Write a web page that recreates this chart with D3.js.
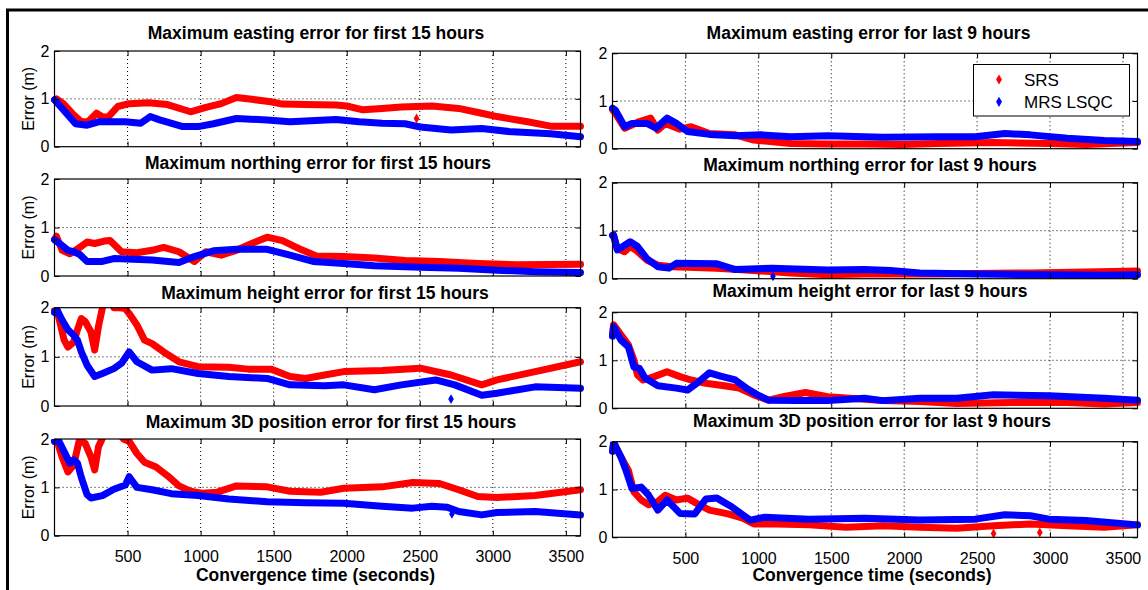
<!DOCTYPE html>
<html><head><meta charset="utf-8">
<script src="https://cdn.jsdelivr.net/npm/d3@7"></script>
<style>
body{margin:0;background:#fff}
svg{display:block;font-family:"Liberation Sans",Arial,Helvetica,sans-serif}
</style>
</head><body>
<svg id="c" width="1148" height="590"></svg>
<script>
// ---------------- data (time in s, error in m) ----------------
const xTicks = [500,1000,1500,2000,2500,3000,3500];
const yTicks = [0,1,2];
const seriesNames = ["SRS","MRS LSQC"];

const eastFirstSRS = [[0,0.98],[13,1.0],[60,0.9],[120,0.7],[184,0.52],[230,0.52],[288,0.7],[330,0.62],[367,0.62],[433,0.84],[511,0.9],[642,0.92],[773,0.88],[931,0.73],[1036,0.82],[1141,0.9],[1245,1.03],[1350,0.99],[1481,0.94],[1560,0.89],[1717,0.88],[1927,0.87],[2000,0.85],[2111,0.77],[2242,0.8],[2373,0.83],[2583,0.85],[2766,0.8],[2924,0.7],[3028,0.63],[3238,0.52],[3395,0.43],[3600,0.43]];
const eastFirstMRS = [[0,0.98],[144,0.48],[223,0.45],[301,0.52],[485,0.52],[590,0.49],[655,0.63],[720,0.56],[878,0.42],[983,0.42],[1088,0.48],[1245,0.59],[1455,0.56],[1612,0.52],[1927,0.57],[2085,0.52],[2242,0.49],[2400,0.48],[2504,0.41],[2714,0.35],[2924,0.38],[3133,0.31],[3395,0.27],[3600,0.21]];

const northFirstSRS = [[0,0.75],[13,0.82],[52,0.53],[105,0.46],[144,0.53],[223,0.7],[275,0.67],[341,0.72],[380,0.73],[459,0.5],[564,0.48],[668,0.53],[747,0.59],[852,0.5],[957,0.3],[1036,0.5],[1141,0.43],[1245,0.53],[1350,0.67],[1455,0.8],[1560,0.73],[1691,0.54],[1796,0.41],[1980,0.4],[2189,0.37],[2400,0.32],[2635,0.3],[2897,0.26],[3160,0.23],[3600,0.24]];
const northFirstMRS = [[0,0.75],[39,0.66],[92,0.53],[131,0.5],[170,0.45],[223,0.3],[328,0.3],[406,0.36],[668,0.33],[852,0.28],[957,0.4],[1088,0.52],[1245,0.55],[1455,0.55],[1612,0.43],[1770,0.3],[1980,0.26],[2189,0.21],[2504,0.18],[2766,0.16],[3028,0.12],[3290,0.09],[3600,0.07]];

const heightFirstSRS = [[0,1.95],[13,2.0],[39,1.68],[66,1.34],[92,1.2],[131,1.3],[157,1.55],[184,1.78],[210,1.72],[249,1.51],[275,1.14],[301,1.62],[328,2.0],[365,2.3],[406,2.0],[450,2.0],[485,1.98],[511,1.88],[564,1.65],[616,1.34],[668,1.27],[747,1.1],[852,0.9],[983,0.8],[1193,0.79],[1324,0.75],[1481,0.75],[1612,0.6],[1717,0.56],[1848,0.63],[1980,0.7],[2242,0.72],[2504,0.77],[2714,0.63],[2924,0.43],[3028,0.53],[3290,0.7],[3600,0.9]];
const heightFirstMRS = [[0,1.9],[13,1.98],[52,1.75],[92,1.55],[131,1.44],[157,1.34],[184,1.1],[223,0.83],[275,0.6],[328,0.66],[406,0.76],[459,0.87],[511,1.1],[564,0.9],[668,0.73],[800,0.76],[983,0.66],[1193,0.6],[1455,0.56],[1612,0.43],[1848,0.41],[1980,0.43],[2189,0.33],[2373,0.43],[2609,0.53],[2740,0.43],[2924,0.22],[3028,0.26],[3290,0.39],[3600,0.36]];

const pos3dFirstSRS = [[0,1.95],[13,2.0],[52,1.63],[92,1.32],[131,1.46],[170,1.98],[210,1.91],[249,1.63],[275,1.36],[301,1.84],[333,2.05],[400,2.3],[472,2.0],[511,1.95],[564,1.7],[616,1.52],[695,1.42],[773,1.24],[852,1.03],[931,0.92],[1009,0.88],[1114,0.9],[1245,1.03],[1455,1.01],[1612,0.92],[1822,0.9],[1980,0.98],[2242,1.01],[2452,1.1],[2635,1.08],[2766,0.95],[2897,0.81],[3028,0.79],[3290,0.83],[3600,0.95]];
const pos3dFirstMRS = [[0,1.95],[26,1.98],[66,1.74],[105,1.5],[131,1.57],[157,1.5],[184,1.2],[223,0.85],[249,0.78],[328,0.83],[406,0.96],[485,1.05],[511,1.22],[564,1.0],[668,0.95],[800,0.87],[983,0.83],[1193,0.76],[1455,0.7],[1717,0.68],[1980,0.67],[2242,0.61],[2452,0.57],[2583,0.61],[2688,0.59],[2766,0.5],[2924,0.43],[3028,0.48],[3290,0.5],[3600,0.43]];

const eastLastSRS = [[0,0.82],[20,0.74],[83,0.43],[185,0.57],[261,0.64],[311,0.39],[362,0.53],[463,0.41],[539,0.46],[665,0.32],[842,0.29],[969,0.18],[1222,0.11],[1475,0.1],[1728,0.1],[1981,0.09],[2234,0.11],[2613,0.13],[2993,0.11],[3246,0.09],[3600,0.13]];
const eastLastMRS = [[0,0.85],[20,0.81],[83,0.46],[134,0.53],[235,0.53],[299,0.43],[374,0.64],[438,0.53],[514,0.36],[665,0.3],[842,0.27],[1020,0.29],[1222,0.25],[1475,0.27],[1854,0.24],[2234,0.25],[2487,0.25],[2690,0.32],[2866,0.29],[3120,0.22],[3372,0.17],[3600,0.15]];

const northLastSRS = [[0,0.9],[8,0.88],[33,0.63],[83,0.56],[121,0.67],[159,0.6],[235,0.39],[311,0.28],[412,0.25],[514,0.24],[716,0.22],[969,0.17],[1222,0.12],[1475,0.08],[1728,0.1],[2234,0.1],[2487,0.11],[2866,0.12],[3246,0.14],[3600,0.16]];
const northLastMRS = [[0,0.9],[8,0.91],[33,0.6],[71,0.67],[121,0.77],[172,0.67],[235,0.42],[311,0.25],[387,0.22],[438,0.32],[716,0.31],[842,0.19],[1095,0.22],[1475,0.18],[1728,0.19],[1905,0.17],[2107,0.12],[2487,0.1],[2993,0.08],[3372,0.07],[3600,0.08]];

const heightLastSRS = [[0,1.55],[8,1.74],[58,1.53],[109,1.32],[147,1.0],[172,0.69],[210,0.59],[286,0.66],[374,0.76],[463,0.66],[539,0.59],[640,0.52],[767,0.47],[868,0.42],[969,0.28],[1070,0.17],[1171,0.24],[1323,0.33],[1475,0.24],[1627,0.21],[1854,0.16],[2107,0.14],[2360,0.1],[2740,0.12],[3120,0.12],[3372,0.09],[3600,0.12]];
const heightLastMRS = [[0,1.5],[8,1.7],[58,1.42],[109,1.28],[147,0.86],[185,0.83],[223,0.63],[311,0.47],[438,0.42],[514,0.38],[577,0.52],[665,0.74],[741,0.67],[842,0.59],[918,0.42],[994,0.28],[1070,0.17],[1273,0.16],[1475,0.16],[1728,0.21],[1854,0.16],[2107,0.21],[2360,0.21],[2613,0.28],[2993,0.26],[3372,0.21],[3600,0.17]];

const pos3dLastSRS = [[0,1.8],[8,1.98],[58,1.68],[109,1.4],[147,0.95],[197,0.78],[248,0.68],[311,0.75],[362,0.88],[438,0.78],[514,0.82],[577,0.71],[665,0.57],[792,0.49],[893,0.4],[969,0.28],[1121,0.28],[1348,0.26],[1601,0.21],[1854,0.24],[2107,0.21],[2360,0.19],[2613,0.24],[2866,0.28],[3120,0.24],[3372,0.21],[3600,0.26]];
const pos3dLastMRS = [[0,1.8],[8,1.98],[58,1.68],[96,1.37],[134,1.02],[197,1.05],[248,0.88],[311,0.57],[374,0.78],[463,0.5],[564,0.49],[640,0.8],[716,0.82],[817,0.64],[893,0.47],[944,0.36],[1045,0.42],[1348,0.38],[1728,0.4],[2107,0.36],[2487,0.38],[2690,0.47],[2866,0.45],[2993,0.38],[3246,0.35],[3600,0.26]];

// isolated stray samples
const eastFirstSRSOut = [[2478,0.59]];
const heightFirstMRSOut = [[2714,0.14]];
const pos3dFirstMRSOut = [[2720,0.45]];
const northLastMRSOut = [[1100,0.05]];
const pos3dLastSRSOut = [[2613,0.08],[2930,0.1]];

// ---------------- layout ----------------
const cols = [[54.5,580.5],[612.5,1137.5]];
const panels = [
 {title:"Maximum easting error for first 15 hours", col:0, top:51, bottom:146.7, tx:316, ty:39.3, srs:eastFirstSRS, mrs:eastFirstMRS, srsOut:eastFirstSRSOut},
 {title:"Maximum northing error for first 15 hours", col:0, top:179, bottom:276, tx:318, ty:169.3, srs:northFirstSRS, mrs:northFirstMRS},
 {title:"Maximum height error for first 15 hours", col:0, top:307.7, bottom:406, tx:325, ty:299.3, srs:heightFirstSRS, mrs:heightFirstMRS, mrsOut:heightFirstMRSOut},
 {title:"Maximum 3D position error for first 15 hours", col:0, top:439, bottom:535.7, tx:331, ty:428.3, srs:pos3dFirstSRS, mrs:pos3dFirstMRS, mrsOut:pos3dFirstMRSOut, last:true},
 {title:"Maximum easting error for last 9 hours", col:1, top:53.3, bottom:148.7, tx:868.5, ty:39.3, srs:eastLastSRS, mrs:eastLastMRS, legend:true},
 {title:"Maximum northing error for last 9 hours", col:1, top:182.7, bottom:278.7, tx:870, ty:170.7, srs:northLastSRS, mrs:northLastMRS, mrsOut:northLastMRSOut},
 {title:"Maximum height error for last 9 hours", col:1, top:312.3, bottom:408.3, tx:870, ty:297.3, srs:heightLastSRS, mrs:heightLastMRS},
 {title:"Maximum 3D position error for last 9 hours", col:1, top:441.7, bottom:537.3, tx:872, ty:426.7, srs:pos3dLastSRS, mrs:pos3dLastMRS, srsOut:pos3dLastSRSOut, last:true}
];
const RED = "#ff0000", BLUE = "#0000ff";

const svg = d3.select("#c");
svg.append("rect").attr("width",1148).attr("height",590).attr("fill","#fff");
// outer frame
svg.append("path").attr("d","M7.5,600V10H1152").attr("fill","none").attr("stroke","#000").attr("stroke-width",3);

const defs = svg.append("defs");

panels.forEach((p,i)=>{
  const [x0,x1] = cols[p.col];
  const x = d3.scaleLinear().domain([0,3600]).range([x0,x1]);
  const y = d3.scaleLinear().domain([0,2]).range([p.bottom,p.top]);
  const g = svg.append("g");

  // title
  g.append("text").attr("x",p.tx).attr("y",p.ty).attr("text-anchor","middle")
    .attr("font-size",17.5).attr("font-weight","bold").attr("fill","#000").text(p.title);

  // grid
  g.append("g").selectAll("line").data(xTicks).join("line")
    .attr("x1",d=>x(d)).attr("x2",d=>x(d)).attr("y1",p.top).attr("y2",p.bottom)
    .attr("stroke","#000").attr("stroke-width",1).attr("stroke-dasharray","1,3");
  g.append("g").selectAll("line").data(yTicks.filter(v=>v>0&&v<2)).join("line")
    .attr("x1",x0).attr("x2",x1).attr("y1",d=>y(d)).attr("y2",d=>y(d))
    .attr("stroke","#000").attr("stroke-width",1).attr("stroke-dasharray","1,3");

  // clip
  const cid = "clip"+i;
  defs.append("clipPath").attr("id",cid).append("rect")
    .attr("x",x0-4).attr("y",p.top).attr("width",x1-x0+8).attr("height",p.bottom-p.top+3);
  const plot = g.append("g").attr("clip-path",`url(#${cid})`);
  const line = d3.line().x(d=>x(d[0])).y(d=>y(d[1]));
  [[p.srs,RED,p.srsOut],[p.mrs,BLUE,p.mrsOut]].forEach(([data,color,out])=>{
    plot.append("path").attr("d",line(data)).attr("fill","none").attr("stroke",color)
      .attr("stroke-width",7).attr("stroke-linejoin","round").attr("stroke-linecap","round");
    if(out){
      plot.selectAll(null).data(out).join("path")
        .attr("transform",d=>`translate(${x(d[0])},${y(d[1])})`)
        .attr("d",d3.symbol(d3.symbolDiamond,28)).attr("fill",color);
    }
  });

  // axes
  const fmt = p.last ? d3.format("d") : ()=>"";
  const ax = [
    g.append("g").attr("transform",`translate(0,${p.bottom})`)
      .call(d3.axisBottom(x).tickValues(xTicks).tickSizeInner(-5).tickSizeOuter(0).tickPadding(15).tickFormat(fmt)),
    g.append("g").attr("transform",`translate(0,${p.top})`)
      .call(d3.axisTop(x).tickValues(xTicks).tickSizeInner(-5).tickSizeOuter(0).tickFormat("")),
    g.append("g").attr("transform",`translate(${x0},0)`)
      .call(d3.axisLeft(y).tickValues(yTicks).tickSizeInner(-5).tickSizeOuter(0).tickPadding(5).tickFormat(d3.format("d"))),
    g.append("g").attr("transform",`translate(${x1},0)`)
      .call(d3.axisRight(y).tickValues(yTicks).tickSizeInner(-5).tickSizeOuter(0).tickFormat(""))
  ];
  ax.forEach(a=>{
    a.select(".domain").remove();
    a.selectAll("line").attr("stroke","#000");
    a.selectAll("text").attr("font-size",16).attr("fill","#000")
      .attr("font-family","'Liberation Sans',Arial,sans-serif");
  });
  // box
  g.append("rect").attr("x",x0).attr("y",p.top).attr("width",x1-x0).attr("height",p.bottom-p.top)
    .attr("fill","none").attr("stroke","#000").attr("stroke-width",1.2);

  if(p.col===0){
    g.append("text").attr("transform",`translate(34,${(p.top+p.bottom)/2}) rotate(-90)`)
      .attr("text-anchor","middle").attr("font-size",16).attr("fill","#000").text("Error (m)");
  }
  if(p.last){
    g.append("text").attr("x",p.col===0?315.5:872).attr("y",581).attr("text-anchor","middle")
      .attr("font-size",17.5).attr("font-weight","bold").attr("fill","#000").text("Convergence time (seconds)");
  }
  if(p.legend){
    const lg = g.append("g");
    lg.append("rect").attr("x",973.5).attr("y",64.5).attr("width",156).attr("height",51.5)
      .attr("fill","#fff").attr("stroke","#000").attr("stroke-width",1);
    [RED,BLUE].forEach((c,k)=>{
      const yy = 79.5 + k*22.3;
      lg.append("path").attr("transform",`translate(999,${yy})`)
        .attr("d",d3.symbol(d3.symbolDiamond,30)).attr("fill",c);
      lg.append("text").attr("x",1024).attr("y",yy+6).attr("font-size",17).attr("fill","#000").text(seriesNames[k]);
    });
  }
});
</script>
</body></html>
